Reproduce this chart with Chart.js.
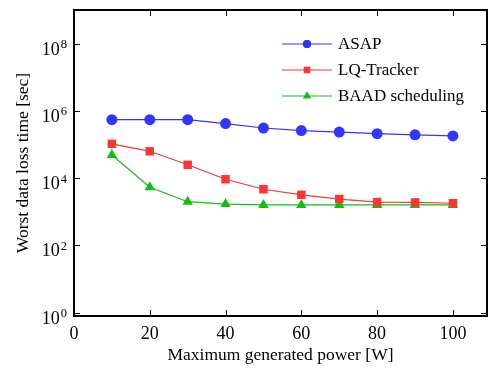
<!DOCTYPE html>
<html>
<head>
<meta charset="utf-8">
<script src="https://cdn.jsdelivr.net/npm/chart.js@4"></script>
<style>
  html, body { margin: 0; padding: 0; background: #fff; }
  #wrap { width: 488px; height: 370px; }
</style>
</head>
<body>
<div id="wrap"><canvas id="chart"></canvas></div>
<script>
// donnees
const powers = [10, 20, 30, 40, 50, 60, 70, 80, 90, 100];
const asap = [5.5e5, 5.5e5, 5.5e5, 4.2e5, 3.1e5, 2.6e5, 2.35e5, 2.1e5, 1.95e5, 1.8e5];
const lqTracker = [1.05e5, 6.3e4, 2.5e4, 9.3e3, 4.7e3, 3.2e3, 2.4e3, 1.95e3, 1.9e3, 1.8e3];
const baad = [4.9e4, 5.4e3, 2.0e3, 1.7e3, 1.6e3, 1.6e3, 1.6e3, 1.6e3, 1.6e3, 1.6e3];
const seriesNames = ['ASAP', 'LQ-Tracker', 'BAAD scheduling'];
const xTicks = [0, 20, 40, 60, 80, 100];
const yTicks = [1, 1e2, 1e4, 1e6, 1e8];

const FONT = "Liberation Serif, serif";

function makeSet(label, data, color, style, radius) {
    return {
        label: label,
        data: powers.map((p, i) => ({ x: p, y: data[i] })),
        borderColor: color,
        backgroundColor: color,
        borderWidth: 1.2,
        pointStyle: style,
        pointRadius: radius,
        pointHoverRadius: radius,
        pointBorderWidth: 0,
        tension: 0
    };
}

// cadre, petits traits vers l'interieur, etiquettes 10^n et legende dessinee a la main
const framePlugin = {
    id: 'frame',
    afterDraw(chart) {
        const ctx = chart.ctx;
        const a = chart.chartArea;
        const xs = chart.scales.x;
        const ys = chart.scales.y;
        ctx.save();
        ctx.strokeStyle = '#000';
        ctx.lineWidth = 2;
        ctx.strokeRect(a.left, a.top, a.right - a.left, a.bottom - a.top);
        ctx.lineWidth = 1;
        ctx.beginPath();
        xTicks.forEach(v => {
            const px = Math.round(xs.getPixelForValue(v)) + 0.5;
            if (v === 0) return;
            ctx.moveTo(px, a.bottom); ctx.lineTo(px, a.bottom - 6);
            ctx.moveTo(px, a.top); ctx.lineTo(px, a.top + 6);
        });
        yTicks.forEach(v => {
            const py = Math.round(ys.getPixelForValue(v)) + 0.5;
            ctx.moveTo(a.left, py); ctx.lineTo(a.left + 6, py);
            ctx.moveTo(a.right, py); ctx.lineTo(a.right - 6, py);
        });
        ctx.stroke();

        // etiquettes de l'axe y avec exposant
        ctx.fillStyle = '#000';
        ctx.textBaseline = 'alphabetic';
        ctx.textAlign = 'left';
        yTicks.forEach(v => {
            const py = ys.getPixelForValue(v);
            const exp = String(Math.round(Math.log10(v)));
            ctx.font = '12.5px ' + FONT;
            const ew = ctx.measureText(exp).width;
            ctx.font = '18px ' + FONT;
            const bw = ctx.measureText('10').width;
            const right = a.left - 7;
            ctx.fillText('10', right - ew - 1 - bw, py + 11);
            ctx.font = '12.5px ' + FONT;
            ctx.fillText(exp, right - ew, py + 4.5);
        });

        // legende
        ctx.font = '17px ' + FONT;
        ctx.textBaseline = 'middle';
        const legendRadius = [4, 4.5, 4.5];
        chart.data.datasets.forEach((ds, i) => {
            const y = 44 + i * 26;
            const x0 = 282, x1 = 332;
            ctx.strokeStyle = ds.borderColor;
            ctx.lineWidth = 1.2;
            ctx.beginPath();
            ctx.moveTo(x0, y); ctx.lineTo(x1, y);
            ctx.stroke();
            ctx.fillStyle = ds.borderColor;
            Chart.helpers.drawPoint(ctx, {
                pointStyle: ds.pointStyle,
                radius: legendRadius[i],
                rotation: 0,
                borderWidth: 0
            }, (x0 + x1) / 2, y);
            ctx.fill();
            ctx.fillStyle = '#000';
            ctx.fillText(ds.label, 338, y + 1);
        });
        ctx.restore();
    }
};

window.onload = function () {
    const datasets = [
        makeSet(seriesNames[0], asap, '#3434ff', 'circle', 5.5),
        makeSet(seriesNames[1], lqTracker, '#ff3434', 'rect', 6),
        makeSet(seriesNames[2], baad, '#10c010', 'triangle', 6)
    ];

    new Chart(document.getElementById('chart'), {
        type: 'line',
        data: { datasets: datasets },
        options: {
            responsive: true,
            maintainAspectRatio: false,
            animation: false,
            events: [],
            layout: { autoPadding: false, padding: { top: 10, right: 1, left: 0, bottom: 0 } },
            plugins: { legend: { display: false }, tooltip: { enabled: false } },
            scales: {
                x: {
                    type: 'linear',
                    min: 0,
                    max: 109,
                    afterBuildTicks: s => { s.ticks = xTicks.map(v => ({ value: v })); },
                    afterFit: s => { s.height = 54; },
                    grid: { display: false, drawTicks: false },
                    border: { display: false },
                    ticks: {
                        color: '#000',
                        padding: 7,
                        maxRotation: 0,
                        font: { family: FONT, size: 18 }
                    },
                    title: {
                        display: true,
                        text: 'Maximum generated power [W]',
                        color: '#000',
                        font: { family: FONT, size: 17.5 },
                        padding: { top: 0, bottom: 4 }
                    }
                },
                y: {
                    type: 'logarithmic',
                    min: 0.8,
                    max: 1e9,
                    afterBuildTicks: s => { s.ticks = yTicks.map(v => ({ value: v })); },
                    afterFit: s => { s.width = 74; },
                    grid: { display: false, drawTicks: false },
                    border: { display: false },
                    ticks: { display: false },
                    title: {
                        display: true,
                        text: 'Worst data loss time [sec]',
                        color: '#000',
                        font: { family: FONT, size: 17.5 },
                        padding: { top: 13, bottom: 0 }
                    }
                }
            }
        },
        plugins: [framePlugin]
    });
};
</script>
</body>
</html>
